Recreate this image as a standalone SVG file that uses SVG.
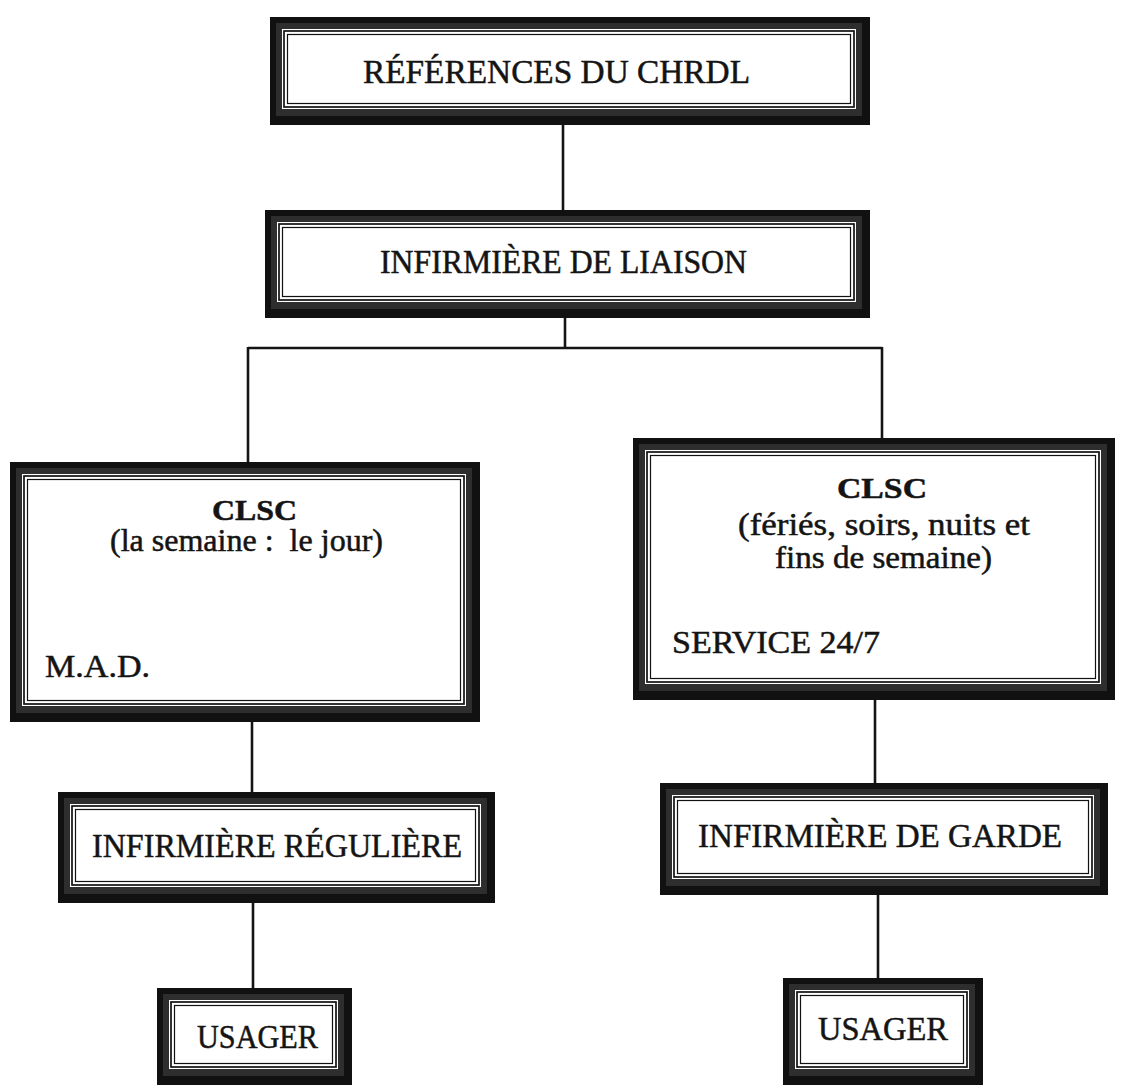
<svg xmlns="http://www.w3.org/2000/svg" width="1127" height="1087" viewBox="0 0 1127 1087">
<style>
.o{fill:#111}
.b{fill:#2e2e2e}
.w{fill:#fff}
.l1{fill:none;stroke:#111;stroke-width:1.7}
.l2{fill:none;stroke:#111;stroke-width:1.2}
.c{fill:none;stroke:#141414;stroke-width:2.6}
text{font-family:"Liberation Serif","Times New Roman",serif;fill:#141414;stroke:#141414;stroke-width:0.5;white-space:pre}
.h{font-size:33px}
.bd{font-size:30px;font-weight:bold}
.t{font-size:31px}
</style>
<rect width="1127" height="1087" fill="#fff"/>
<g id="connectors">
<line class="c" x1="563" y1="125" x2="563" y2="210"/>
<line class="c" x1="565" y1="318" x2="565" y2="348"/>
<line class="c" x1="248" y1="348" x2="882" y2="348"/>
<line class="c" x1="248" y1="347" x2="248" y2="462"/>
<line class="c" x1="882" y1="347" x2="882" y2="438"/>
<line class="c" x1="252" y1="722" x2="252" y2="792"/>
<line class="c" x1="875" y1="700" x2="875" y2="783"/>
<line class="c" x1="253" y1="903" x2="253" y2="988"/>
<line class="c" x1="878" y1="895" x2="878" y2="978"/>
</g>
<g id="n1">
<rect class="o" x="270" y="17" width="600" height="108"/><rect class="b" x="276" y="23" width="586" height="93"/><rect class="w" x="282" y="29" width="574" height="80"/><rect class="l1" x="284" y="31" width="570" height="76"/><rect class="l2" x="287.5" y="34.5" width="563" height="69"/>
<text class="h" x="363" y="83" textLength="387" lengthAdjust="spacingAndGlyphs">RÉFÉRENCES DU CHRDL</text>
</g>
<g id="n2">
<rect class="o" x="265" y="210" width="605" height="108"/><rect class="b" x="271" y="216" width="591" height="93"/><rect class="w" x="277" y="222" width="579" height="80"/><rect class="l1" x="279" y="224" width="575" height="76"/><rect class="l2" x="282.5" y="227.5" width="568" height="69"/>
<text class="h" x="380" y="273" textLength="367" lengthAdjust="spacingAndGlyphs">INFIRMIÈRE DE LIAISON</text>
</g>
<g id="n3">
<rect class="o" x="10" y="462" width="470" height="260"/><rect class="b" x="16" y="468" width="456" height="245"/><rect class="w" x="22" y="474" width="444" height="232"/><rect class="l1" x="24" y="476" width="440" height="228"/><rect class="l2" x="27.5" y="479.5" width="433" height="221"/>
<text class="bd" x="212" y="520" textLength="85" lengthAdjust="spacingAndGlyphs">CLSC</text>
<text class="t" x="110" y="551" textLength="273" lengthAdjust="spacingAndGlyphs">(la semaine :  le jour)</text>
<text class="t" x="45" y="677" textLength="105" lengthAdjust="spacingAndGlyphs">M.A.D.</text>
</g>
<g id="n4">
<rect class="o" x="633" y="438" width="482" height="262"/><rect class="b" x="639" y="444" width="468" height="247"/><rect class="w" x="645" y="450" width="456" height="234"/><rect class="l1" x="647" y="452" width="452" height="230"/><rect class="l2" x="650.5" y="455.5" width="445" height="223"/>
<text class="bd" x="837" y="498" textLength="90" lengthAdjust="spacingAndGlyphs">CLSC</text>
<text class="t" x="738" y="535" textLength="292" lengthAdjust="spacingAndGlyphs">(fériés, soirs, nuits et</text>
<text class="t" x="775" y="568" textLength="217" lengthAdjust="spacingAndGlyphs">fins de semaine)</text>
<text class="t" x="672" y="653" textLength="208" lengthAdjust="spacingAndGlyphs">SERVICE 24/7</text>
</g>
<g id="n5">
<rect class="o" x="58" y="792" width="437" height="111"/><rect class="b" x="64" y="798" width="423" height="96"/><rect class="w" x="70" y="804" width="411" height="83"/><rect class="l1" x="72" y="806" width="407" height="79"/><rect class="l2" x="75.5" y="809.5" width="400" height="72"/>
<text class="h" x="92" y="857" textLength="370" lengthAdjust="spacingAndGlyphs">INFIRMIÈRE RÉGULIÈRE</text>
</g>
<g id="n6">
<rect class="o" x="660" y="783" width="448" height="112"/><rect class="b" x="666" y="789" width="434" height="97"/><rect class="w" x="672" y="795" width="422" height="84"/><rect class="l1" x="674" y="797" width="418" height="80"/><rect class="l2" x="677.5" y="800.5" width="411" height="73"/>
<text class="h" x="698" y="847" textLength="364" lengthAdjust="spacingAndGlyphs">INFIRMIÈRE DE GARDE</text>
</g>
<g id="n7">
<rect class="o" x="157" y="988" width="195" height="97"/><rect class="b" x="163" y="994" width="181" height="82"/><rect class="w" x="169" y="1000" width="169" height="69"/><rect class="l1" x="171" y="1002" width="165" height="65"/><rect class="l2" x="174.5" y="1005.5" width="158" height="58"/>
<text class="h" x="197" y="1048" textLength="121" lengthAdjust="spacingAndGlyphs">USAGER</text>
</g>
<g id="n8">
<rect class="o" x="783" y="978" width="200" height="107"/><rect class="b" x="789" y="984" width="186" height="92"/><rect class="w" x="795" y="990" width="174" height="79"/><rect class="l1" x="797" y="992" width="170" height="75"/><rect class="l2" x="800.5" y="995.5" width="163" height="68"/>
<text class="h" x="818" y="1040" textLength="130" lengthAdjust="spacingAndGlyphs">USAGER</text>
</g>
</svg>
